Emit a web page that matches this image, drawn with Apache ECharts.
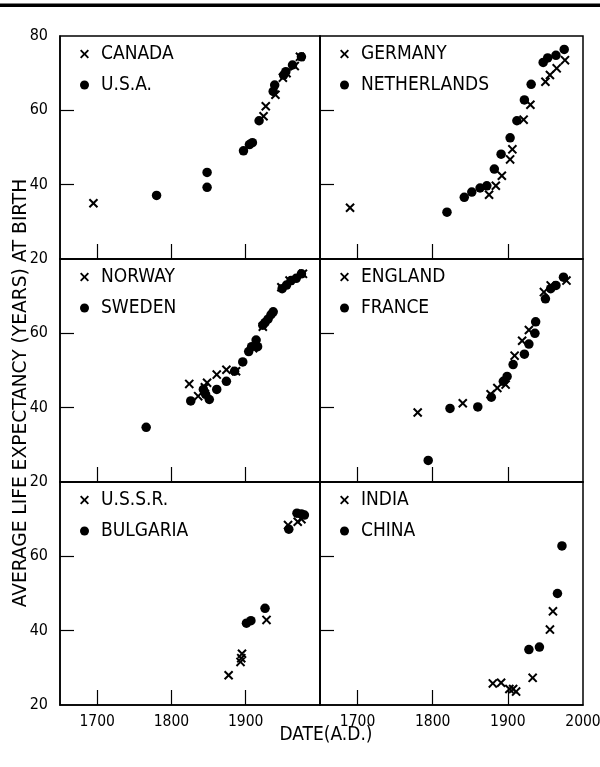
<!DOCTYPE html>
<html>
<head>
<meta charset="utf-8">
<script src="https://cdn.jsdelivr.net/npm/echarts@6/dist/echarts.min.js"></script>
<style>
html,body{margin:0;padding:0;background:#fff;}
#chart{width:600px;height:767px;}
</style>
</head>
<body>
<div id="chart"></div>
<script>
// ---------------- DATA ----------------
const xTicks = [1700, 1800, 1900];
const xTicksLast = [1700, 1800, 1900, 2000];
const yTicksTop = [20, 40, 60, 80];
const yTicksOther = [20, 40, 60];

const canadaYear = [1695, 1924, 1927, 1940, 1950, 1955, 1966, 1973];
const canadaLife = [35.0, 58.4, 61.1, 64.2, 68.8, 70.0, 71.9, 74.4];
const usaYear = [1780, 1848, 1848, 1897, 1905, 1909, 1918, 1937, 1939, 1951, 1954, 1963, 1975];
const usaLife = [37.1, 43.3, 39.3, 49.1, 50.8, 51.3, 57.2, 65.1, 66.8, 69.5, 70.4, 72.2, 74.4];

const germanyYear = [1690, 1875, 1884, 1892, 1903, 1906, 1921, 1930, 1950, 1956, 1965, 1976];
const germanyLife = [33.8, 37.3, 39.7, 42.4, 46.8, 49.5, 57.5, 61.5, 67.7, 69.5, 71.3, 73.5];
const netherlandsYear = [1819, 1842, 1852, 1863, 1872, 1882, 1891, 1903, 1912, 1922, 1931, 1947, 1953, 1964, 1975];
const netherlandsLife = [32.6, 36.6, 38.0, 39.1, 39.7, 44.2, 48.2, 52.6, 57.2, 62.8, 67.0, 72.9, 74.1, 74.8, 76.4];

const norwayYear = [1824, 1836, 1845, 1848, 1861, 1874, 1887, 1910, 1923, 1948, 1959, 1977];
const norwayLife = [46.4, 43.1, 45.5, 46.7, 48.9, 50.2, 49.8, 56.0, 61.8, 72.4, 74.2, 76.0];
const swedenYear = [1766, 1826, 1843, 1846, 1851, 1861, 1874, 1885, 1896, 1904, 1908, 1914, 1916, 1923, 1926, 1930, 1934, 1937, 1949, 1955, 1961, 1968, 1975];
const swedenLife = [34.7, 41.8, 44.9, 43.6, 42.2, 44.9, 47.1, 49.8, 52.3, 55.1, 56.4, 58.2, 56.4, 62.2, 62.9, 63.8, 65.0, 65.8, 72.0, 73.0, 74.2, 74.8, 76.0];

const englandYear = [1780, 1840, 1877, 1886, 1897, 1909, 1919, 1928, 1948, 1957, 1978];
const englandLife = [38.7, 41.2, 43.6, 45.3, 46.2, 54.0, 58.0, 60.9, 71.1, 72.9, 74.2];
const franceYear = [1794, 1823, 1860, 1878, 1894, 1899, 1907, 1922, 1928, 1936, 1937, 1950, 1957, 1964, 1974];
const franceLife = [25.8, 39.8, 40.2, 42.8, 47.1, 48.4, 51.6, 54.4, 57.1, 60.0, 63.1, 69.3, 72.0, 72.9, 75.1];

const ussrYear = [1877, 1893, 1894, 1895, 1928, 1957, 1970, 1975];
const ussrLife = [28.0, 31.6, 32.6, 33.8, 42.9, 68.4, 69.3, 70.0];
const bulgariaYear = [1901, 1907, 1926, 1958, 1969, 1975, 1979];
const bulgariaLife = [42.0, 42.7, 46.0, 67.3, 71.6, 71.4, 71.1];

const indiaYear = [1880, 1891, 1902, 1907, 1911, 1933, 1956, 1960];
const indiaLife = [25.8, 26.0, 24.3, 24.3, 23.6, 27.3, 40.3, 45.2];
const chinaYear = [1928, 1942, 1966, 1972];
const chinaLife = [34.9, 35.6, 50.0, 62.8];

const panelNames = [
  ['CANADA', 'U.S.A.'], ['GERMANY', 'NETHERLANDS'],
  ['NORWAY', 'SWEDEN'], ['ENGLAND', 'FRANCE'],
  ['U.S.S.R.', 'BULGARIA'], ['INDIA', 'CHINA']
];
const panelData = [
  [[canadaYear, canadaLife], [usaYear, usaLife]],
  [[germanyYear, germanyLife], [netherlandsYear, netherlandsLife]],
  [[norwayYear, norwayLife], [swedenYear, swedenLife]],
  [[englandYear, englandLife], [franceYear, franceLife]],
  [[ussrYear, ussrLife], [bulgariaYear, bulgariaLife]],
  [[indiaYear, indiaLife], [chinaYear, chinaLife]]
];
const yTitle = 'AVERAGE LIFE EXPECTANCY (YEARS) AT BIRTH';
const xTitle = 'DATE(A.D.)';

// ---------------- LAYOUT ----------------
const FONT_TICK = "'DejaVu Sans Condensed',sans-serif";
const FONT_TEXT = "'DejaVu Sans Condensed',sans-serif";
const cols = [{left: 60, width: 260}, {left: 320, width: 263}];
const rowTops = [36, 259, 482];
const rowH = 223;
const CROSS = 'path://M0,1.5L1.5,0L5,3.5L8.5,0L10,1.5L6.5,5L10,8.5L8.5,10L5,6.5L1.5,10L0,8.5L3.5,5Z';

function zip(a, b) { return a.map((v, i) => [v, b[i]]); }

const grids = [], xAxes = [], yAxes = [], series = [], legends = [];
for (let i = 0; i < 6; i++) {
  const r = Math.floor(i / 2), c = i % 2;
  const col = cols[c];
  grids.push({left: col.left, top: rowTops[r], width: col.width, height: rowH,
    show: true, borderColor: '#000', borderWidth: 1.5, backgroundColor: 'transparent',
    containLabel: false, outerBoundsMode: 'none'});
  const bottomRow = r === 2;
  xAxes.push({
    type: 'value', gridIndex: i, min: 1650, max: 2000,
    axisLine: {show: true, onZero: false, lineStyle: {color: '#000', width: 1.5}},
    axisTick: {show: true, inside: true, length: 15, lineStyle: {color: '#000', width: 1.2},
      customValues: xTicks},
    axisLabel: {show: bottomRow, margin: 9, color: '#000', fontFamily: FONT_TICK, fontSize: 15.5,
      customValues: c === 1 ? xTicksLast : xTicks, formatter: v => String(v)},
    splitLine: {show: false}
  });
  yAxes.push({
    type: 'value', gridIndex: i, min: 20, max: 80, interval: 20,
    axisLine: {show: true, onZero: false, lineStyle: {color: '#000', width: 1.5}},
    axisTick: {show: true, inside: true, length: 14, lineStyle: {color: '#000', width: 1.2},
      customValues: [40, 60]},
    axisLabel: {show: c === 0, margin: 12, color: '#000', fontFamily: FONT_TICK, fontSize: 16,
      customValues: r === 0 ? yTicksTop : yTicksOther, formatter: v => String(v)},
    splitLine: {show: false}
  });
  const names = panelNames[i];
  const d = panelData[i];
  series.push({
    type: 'scatter', name: names[0], xAxisIndex: i, yAxisIndex: i,
    symbol: CROSS, symbolSize: 9.5, itemStyle: {color: '#000', opacity: 1},
    data: zip(d[0][0], d[0][1]), z: 3
  });
  series.push({
    type: 'scatter', name: names[1], xAxisIndex: i, yAxisIndex: i,
    symbol: 'circle', symbolSize: 9.5, itemStyle: {color: '#000', opacity: 1},
    data: zip(d[1][0], d[1][1]), z: 2
  });
  legends.push({
    orient: 'vertical', left: col.left + 15, top: rowTops[r] + 3,
    itemWidth: 9, itemHeight: 9, itemGap: 11, selectedMode: false,
    data: names,
    textStyle: {fontFamily: FONT_TEXT, fontSize: 19, color: '#000', lineHeight: 20, padding: [0, 0, 0, 7]}
  });
}

const option = {
  animation: false,
  backgroundColor: '#fff',
  grid: grids, xAxis: xAxes, yAxis: yAxes, series: series, legend: legends,
  graphic: [
    {type: 'rect', shape: {x: 0, y: 3.5, width: 600, height: 3.5}, style: {fill: '#000'}},
    {type: 'text', x: 21, y: 393, rotation: Math.PI / 2, scaleX: 1.09,
      style: {text: yTitle, fontFamily: FONT_TEXT, fontSize: 19, fill: '#000', align: 'center', verticalAlign: 'middle'}},
    {type: 'text', x: 326, y: 735,
      style: {text: xTitle, fontFamily: FONT_TEXT, fontSize: 19, fill: '#000', align: 'center', verticalAlign: 'middle'}}
  ]
};

const chart = echarts.init(document.getElementById('chart'), null, {renderer: 'canvas'});
chart.setOption(option);
</script>
</body>
</html>
